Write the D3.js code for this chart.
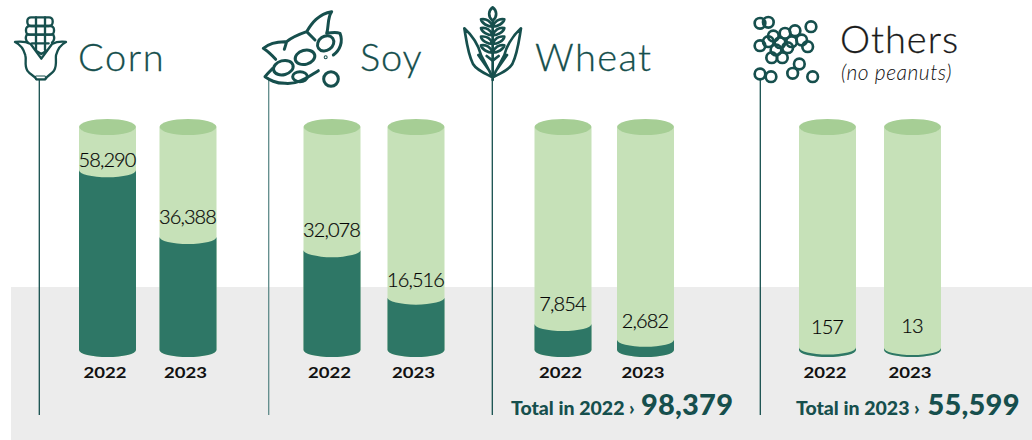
<!DOCTYPE html>
<html>
<head>
<meta charset="utf-8">
<script src="https://cdn.jsdelivr.net/npm/d3@7/dist/d3.min.js"></script>
<style>
  html, body { margin: 0; padding: 0; background: #fff; }
  svg { display: block; }
  text { font-family: Lato, "Open Sans", sans-serif; }
</style>
</head>
<body>
<svg id="chart" width="1032" height="440"></svg>
<script>
// Harvest figures per crop and year
const years = ["2022", "2023"];
const crops = ["Corn", "Soy", "Wheat", "Others"];
const corn = [58290, 36388];
const soy = [32078, 16516];
const wheat = [7854, 2682];
const others = [157, 13];
const totalLabels = ["Total in 2022 ›", "Total in 2023 ›"];
const totals = [98379, 55599];

const cropValues = [corn, soy, wheat, others];
const cropCentres = [[107.5, 188], [332, 416], [563, 645.5], [827.5, 912.5]];
const stemX = [39.3, 268.7, 492.3, 760.3];
// How far each value label sits above its fill
const labelLift = [[3, 13], [13.5, 10.5], [13, 12], [14, 15]];

const INK = "#164f4d", DARK = "#2e7766", LIGHT = "#c6e1b8", CAP = "#a6ce95", BAND = "#ececec";
const fmt = d3.format(",");
const svg = d3.select("#chart");

// Backdrop band
svg.append("rect").attr("x", 11).attr("y", 287).attr("width", 1021).attr("height", 153).attr("fill", BAND);

// Shared vertical scale; the range starts a little up so tiny values stay visible
const baseY = 350, topY = 127;
const y = d3.scaleLinear().domain([0, 60000]).range([baseY - 2, baseY - 185]);
const barW = 57, ry = 7;

// Cylinder outline from a top side-edge y to a bottom side-edge y
function cylinder(cx, yTop, yBottom) {
  const l = cx - barW / 2, r = cx + barW / 2;
  return `M${l},${yTop}A${barW / 2},${ry} 0 0 0 ${r},${yTop}L${r},${yBottom}A${barW / 2},${ry} 0 0 1 ${l},${yBottom}Z`;
}

// Stems
svg.append("g").selectAll("line").data(stemX).join("line")
  .attr("x1", d => d).attr("x2", d => d).attr("y1", 79).attr("y2", 415)
  .attr("stroke", (d, i) => i === 1 ? "#5f8b8a" : INK).attr("stroke-width", 1.3);

// Cylinders
crops.forEach((crop, ci) => {
  const g = svg.append("g").attr("class", "crop");
  cropValues[ci].forEach((v, yi) => {
    const cx = cropCentres[ci][yi];
    const bar = g.append("g");
    bar.append("path").attr("d", cylinder(cx, topY, baseY)).attr("fill", LIGHT);
    bar.append("ellipse").attr("cx", cx).attr("cy", topY).attr("rx", barW / 2).attr("ry", 8).attr("fill", CAP);
    // Dark fill: the upper rim dips like the cap's front edge
    bar.append("path").attr("d", cylinder(cx, y(v), baseY)).attr("fill", DARK);
    bar.append("text").attr("x", cx - 0.5).attr("y", y(v) - labelLift[ci][yi])
      .attr("text-anchor", "middle").attr("font-size", 20).attr("letter-spacing", -0.9)
      .attr("font-weight", 300).attr("stroke", "#111").attr("stroke-width", 0.2)
      .attr("fill", "#000").text(fmt(v));
    bar.append("text").attr("x", cx - 2.5).attr("y", 378)
      .attr("text-anchor", "middle").attr("font-size", 15).attr("font-weight", 700)
      .attr("textLength", 43).attr("lengthAdjust", "spacingAndGlyphs")
      .attr("fill", "#111").text(years[yi]);
  });
});

// Crop titles
const titles = [
  { t: crops[0], x: 78, y: 71, c: INK, s: 1.6 },
  { t: crops[1], x: 360, y: 71, c: INK, s: 0.8 },
  { t: crops[2], x: 535, y: 71, c: INK, s: 1.4 },
  { t: crops[3], x: 840, y: 53, c: "#1a1a1a", s: 1 }
];
svg.append("g").selectAll("text").data(titles).join("text")
  .attr("x", d => d.x).attr("y", d => d.y).attr("fill", d => d.c)
  .attr("stroke", d => d.c).attr("stroke-width", 0.3)
  .attr("font-size", 38).attr("font-weight", 300).attr("letter-spacing", d => d.s).text(d => d.t);
svg.append("text").attr("x", 841).attr("y", 80).attr("font-size", 21).attr("font-style", "italic")
  .attr("font-weight", 300).attr("letter-spacing", 0.5).attr("fill", "#111").text("(no peanuts)");

// Totals
[[511, 641], [796, 927.5]].forEach((pos, i) => {
  svg.append("text").attr("x", pos[0]).attr("y", 415).attr("font-size", 19.5).attr("font-weight", 900)
    .attr("fill", INK).text(totalLabels[i]);
  svg.append("text").attr("x", pos[1]).attr("y", 415).attr("font-size", 29).attr("font-weight", 900)
    .attr("letter-spacing", 0.2).attr("fill", INK).text(fmt(totals[i]));
});

// Icons are drawn on a 3x grid, then scaled down
const icon = (x, sw) => svg.append("g").attr("transform", `translate(${x},0) scale(${1 / 3})`)
  .attr("fill", "none").attr("stroke", INK).attr("stroke-width", sw)
  .attr("stroke-linecap", "round").attr("stroke-linejoin", "round");

// Corn cob and husk
const cornIcon = icon(0, 7);
cornIcon.append("rect").attr("x", 82).attr("y", 52).attr("width", 76).attr("height", 26).attr("rx", 11);
cornIcon.append("rect").attr("x", 78).attr("y", 78).attr("width", 84).attr("height", 26).attr("rx", 11);
cornIcon.append("path").attr("d", "M80,104C76,112 78,122 84,128M160,104C164,112 162,122 156,128M80,104H160M108,52V150M135,52V150M96,130H146");
cornIcon.append("path").attr("d", "M45,126C60,124 80,126 92,132L124,176L156,132C168,126 184,124 198,126C182,134 172,150 168,166C166,180 172,196 162,212C154,224 142,226 136,238H110C102,226 90,224 82,212C72,196 80,180 76,166C72,150 62,134 45,126Z");
cornIcon.append("path").attr("d", "M108,152L124,162L140,152");
cornIcon.append("rect").attr("x", 108).attr("y", 228).attr("width", 28).attr("height", 11).attr("stroke-width", 3);

// Soy pod and beans
const soyIcon = icon(255, 9);
soyIcon.append("path").attr("d", "M25,145C40,132 65,124 95,125C110,112 135,102 155,95C170,70 190,42 230,35C216,55 222,80 215,100C228,98 244,96 255,100C265,125 255,150 235,165M25,145C40,155 50,165 62,178M95,125C92,135 90,142 88,148M155,95C165,105 172,112 180,120");
soyIcon.append("path").attr("d", "M30,230C40,218 45,214 52,206M30,230C45,240 60,250 90,250C130,254 160,230 190,212");
soyIcon.selectAll("ellipse").data([[85, 203, 30, 21, -15], [150, 172, 30, 21, -15], [212, 130, 26, 21, -35], [135, 230, 22, 15, 0]]).join("ellipse")
  .attr("rx", d => d[2]).attr("ry", d => d[3])
  .attr("transform", d => `translate(${d[0]},${d[1]}) rotate(${d[4]})`);
soyIcon.append("circle").attr("cx", 228).attr("cy", 237).attr("r", 22);
soyIcon.append("circle").attr("cx", 212).attr("cy", 172).attr("r", 1.5);

// Wheat ear and leaves
const wheatIcon = icon(455, 8);
wheatIcon.append("path").attr("d", "M113,22C100,32 98,50 113,62C128,50 126,32 113,22ZM113,62V240");
wheatIcon.selectAll(".grain").data([58, 84, 110, 136]).join("path").attr("class", "grain")
  .attr("d", d => `M113,${d + 22}C98,${d + 22} 80,${d + 12} 78,${d}C94,${d - 3} 108,${d + 6} 113,${d + 22}C118,${d + 6} 132,${d - 3} 148,${d}C146,${d + 12} 128,${d + 22} 113,${d + 22}Z`);
wheatIcon.append("path").attr("d", "M28,85C50,105 70,135 78,165L113,232L148,165C156,135 176,105 198,85C192,120 188,160 172,192C160,212 132,222 113,232C94,222 66,212 54,192C38,160 34,120 28,85ZM70,165L104,214M156,165L122,214M95,168L113,182L131,168");

// Pile of beans
const beanCentres = [[60, 70], [85, 67], [213, 80], [165, 92], [135, 100], [100, 108], [85, 125], [60, 137], [120, 128], [155, 125], [185, 120], [203, 140], [143, 143], [108, 150], [95, 173], [127, 173], [178, 192], [158, 220], [60, 222], [93, 230], [218, 230]];
const beansIcon = icon(740, 8);
beansIcon.selectAll("circle").data(beanCentres).join("circle")
  .attr("cx", d => d[0]).attr("cy", d => d[1]).attr("r", 16);
</script>
</body>
</html>
